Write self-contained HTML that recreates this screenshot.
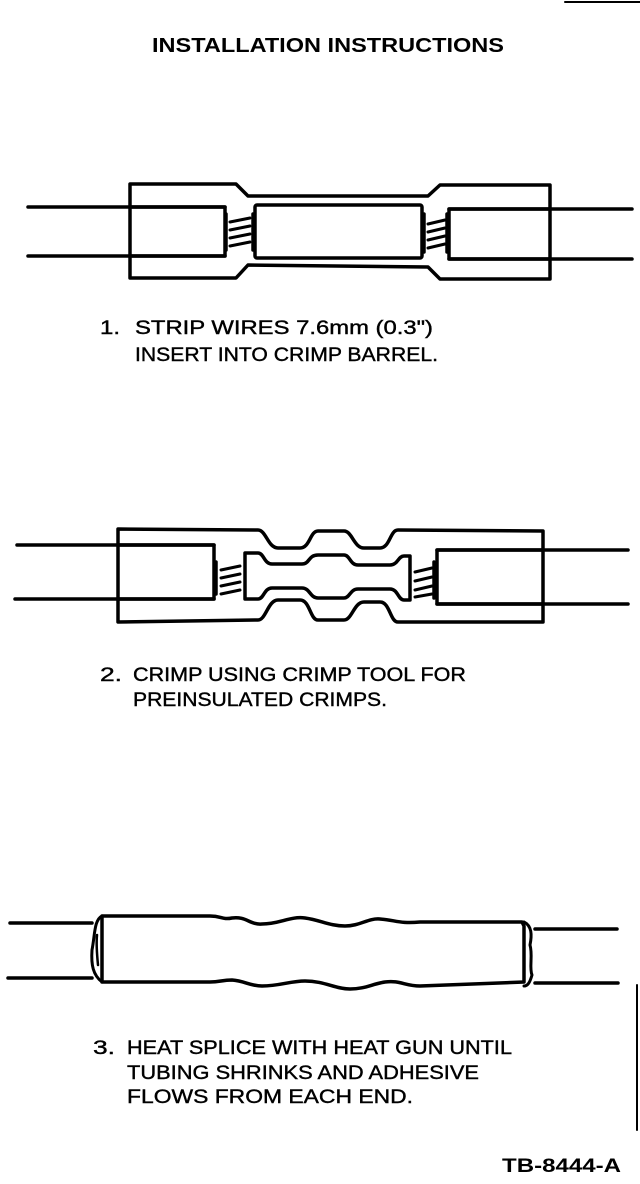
<!DOCTYPE html>
<html><head><meta charset="utf-8"><style>
html,body{margin:0;padding:0;background:#fff;width:640px;height:1184px;overflow:hidden}
svg{display:block}
text{font-family:"Liberation Sans",Arial,sans-serif;fill:#000}
</style></head><body>
<svg width="640" height="1184" viewBox="0 0 640 1184" xmlns="http://www.w3.org/2000/svg">
<g fill="none" stroke="#000" stroke-width="3.5" stroke-linejoin="round" stroke-linecap="round">
<line x1="565" y1="2" x2="640" y2="2" stroke-width="2"/>
<line x1="637" y1="985" x2="637" y2="1130" stroke-width="2"/>

<!-- Diagram 1 -->
<line x1="28" y1="207" x2="225" y2="207"/>
<line x1="28" y1="256" x2="225" y2="256"/>
<line x1="449" y1="209" x2="632" y2="209"/>
<line x1="449" y1="259" x2="632" y2="259"/>
<path d="M130 184 L236 184 L248 196 L428 196 L440 185 L550 185 L550 279 L440 279 L428 267 L248 265 L236 278 L130 278 Z"/>
<path d="M130 207 L225 207 L225 256 L130 256"/>
<rect x="255" y="205" width="167" height="53" rx="2"/>
<path d="M550 209 L449 209 L449 259 L550 259"/>
<line x1="226" y1="214" x2="226" y2="250"/><line x1="253" y1="214" x2="253" y2="250"/>
<g stroke-width="3"><line x1="230" y1="222" x2="250" y2="218"/><line x1="230" y1="230" x2="250" y2="226"/><line x1="230" y1="238" x2="250" y2="234"/><line x1="230" y1="246" x2="250" y2="242"/></g>
<line x1="424" y1="214" x2="424" y2="252"/><line x1="447" y1="214" x2="447" y2="252"/>
<g stroke-width="3"><line x1="428" y1="224" x2="445" y2="220"/><line x1="428" y1="232" x2="445" y2="228"/><line x1="428" y1="240" x2="445" y2="236"/><line x1="428" y1="248" x2="445" y2="244"/></g>

<!-- Diagram 2 -->
<line x1="17" y1="545" x2="214" y2="545"/>
<line x1="15" y1="599" x2="214" y2="599"/>
<line x1="437" y1="550" x2="628" y2="550"/>
<line x1="437" y1="604" x2="628" y2="604"/>
<path d="M118 529 L258 530 C266 530 268 548 278 548 L300 548 C310 548 310 531 318 531 L344 531 C352 531 354 548 364 548 L380 548 C390 548 390 530 398 530 L543 531 L543 622 L398 622 C390 622 390 602 380 602 L364 602 C354 602 352 620 344 620 L318 620 C310 620 310 600 300 600 L278 600 C268 600 266 620 258 620 L118 622 Z"/>
<path d="M118 545 L214 545 L214 599 L118 599"/>
<path d="M543 550 L437 550 L437 604 L543 604"/>
<path d="M245 553 L258 553 C264 553 264 564 272 564 L302 564 C310 564 308 555 318 555 L344 555 C350 555 350 565 358 565 L390 565 C398 565 398 556 404 556 L410 556 L410 600 L404 600 C398 600 398 589 390 589 L358 589 C350 589 350 598 344 598 L318 598 C310 598 310 588 302 588 L272 588 C264 588 264 599 258 599 L245 599 Z"/>
<line x1="216" y1="562" x2="216" y2="594"/>
<g stroke-width="3"><line x1="221" y1="570" x2="240" y2="566"/><line x1="221" y1="578" x2="240" y2="574"/><line x1="221" y1="586" x2="240" y2="582"/><line x1="221" y1="594" x2="240" y2="590"/></g>
<line x1="434" y1="562" x2="434" y2="598"/>
<g stroke-width="3"><line x1="415" y1="572" x2="432" y2="568"/><line x1="415" y1="581" x2="432" y2="577"/><line x1="415" y1="590" x2="432" y2="586"/><line x1="415" y1="597" x2="432" y2="594"/></g>

<!-- Diagram 3 -->
<line x1="10" y1="923" x2="92" y2="923"/>
<line x1="8" y1="978" x2="92" y2="978"/>
<line x1="535" y1="929" x2="617" y2="929"/>
<line x1="535" y1="983" x2="618" y2="983"/>
<path d="M102 916 L210 916 C222 916 222 920 232 918 C246 916 250 925 262 924 C280 924 290 916 305 918 C320 920 330 926 345 926 C360 926 368 918 380 919 C395 920 400 924 420 922 L522 922 L524 926 L524 982 L420 986 C405 986 400 980 385 982 C372 984 365 989 350 989 C335 989 325 981 305 981 C290 981 280 986 262 986 C250 986 245 981 232 980 C222 980 220 982 210 982 L102 982 Z"/>
<path d="M102 916 C94 920 95 935 92 950 C91 965 93 975 102 982" stroke-width="3"/>
<path d="M97 935 C96 945 97 955 98 965" stroke-width="2.5"/>
<path d="M524 922 C532 926 532 935 530 945 C533 955 529 968 532 975 C530 982 528 986 524 986" stroke-width="3"/>
</g>

<text x="328" y="52" text-anchor="middle" font-size="20" font-weight="bold" textLength="352" lengthAdjust="spacingAndGlyphs">INSTALLATION INSTRUCTIONS</text>

<g font-size="19.5" stroke="#000" stroke-width="0.4">
<text x="100" y="334" textLength="20" lengthAdjust="spacingAndGlyphs">1.</text>
<text x="135" y="334" textLength="298" lengthAdjust="spacingAndGlyphs">STRIP WIRES 7.6mm (0.3")</text>
<text x="135" y="361" textLength="303" lengthAdjust="spacingAndGlyphs">INSERT INTO CRIMP BARREL.</text>

<text x="100" y="681" textLength="22" lengthAdjust="spacingAndGlyphs">2.</text>
<text x="133" y="681" textLength="333" lengthAdjust="spacingAndGlyphs">CRIMP USING CRIMP TOOL FOR</text>
<text x="133" y="706" textLength="254" lengthAdjust="spacingAndGlyphs">PREINSULATED CRIMPS.</text>

<text x="93" y="1054" textLength="22" lengthAdjust="spacingAndGlyphs">3.</text>
<text x="127" y="1054" textLength="385" lengthAdjust="spacingAndGlyphs">HEAT SPLICE WITH HEAT GUN UNTIL</text>
<text x="127" y="1079" textLength="352" lengthAdjust="spacingAndGlyphs">TUBING SHRINKS AND ADHESIVE</text>
<text x="127" y="1103" textLength="286" lengthAdjust="spacingAndGlyphs">FLOWS FROM EACH END.</text>
</g>
<text x="502" y="1172" font-size="19" font-weight="bold" textLength="119" lengthAdjust="spacingAndGlyphs">TB-8444-A</text>
</svg>
</body></html>
